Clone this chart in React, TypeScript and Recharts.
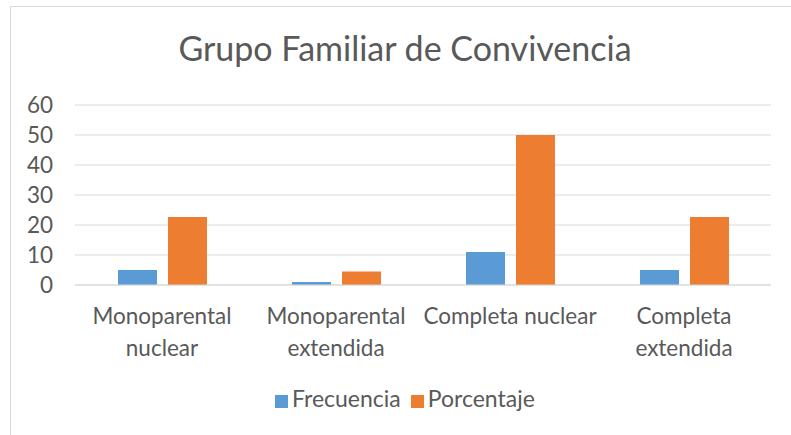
import { BarChart, Bar, XAxis, YAxis, CartesianGrid, Legend } from 'recharts';

const CATEGORIES = ['Monoparental\nnuclear', 'Monoparental\nextendida', 'Completa nuclear', 'Completa\nextendida'];
const FRECUENCIA = [5, 1, 11, 5];
const PORCENTAJE = [22.7, 4.5, 50, 22.7];
const Y_TICKS = [0, 10, 20, 30, 40, 50, 60];

const FONT = 'Lato, "Open Sans", sans-serif';
const TEXT = '#595959';
const GRID = '#d9d9d9';

const data = CATEGORIES.map((c, i) => ({ name: c, Frecuencia: FRECUENCIA[i], Porcentaje: PORCENTAJE[i] }));

function CategoryTick({ x, payload }: any) {
  const lines = String(payload.value).split('\n');
  return (
    <text x={x} y={324} textAnchor="middle" fill={TEXT} fontSize={22.5} fontFamily={FONT}>
      {lines.map((l, i) => (
        <tspan key={i} x={x} dy={i === 0 ? 0 : 32}>{l}</tspan>
      ))}
    </text>
  );
}

export default function App() {
  return (
    <div style={{ position: 'absolute', left: 0, top: 0, width: 791, height: 435, overflow: 'hidden', background: '#fff' }}>
      <div style={{ position: 'absolute', left: 10, top: 6, width: 800, height: 440, borderTop: `1px solid ${GRID}`, borderLeft: `1px solid ${GRID}` }} />
      <div style={{ position: 'absolute', left: 0, top: 27, width: 810, textAlign: 'center', fontFamily: FONT, fontSize: 34, color: TEXT, fontWeight: 400 }}>
        Grupo Familiar de Convivencia
      </div>
      <div style={{ position: 'absolute', left: 0, top: 0 }}>
        <BarChart width={791} height={435} data={data} margin={{ top: 105, right: 20, bottom: 0, left: 0 }} barSize={39} barGap={11}>
          <CartesianGrid vertical={false} stroke={GRID} strokeWidth={1} />
          <XAxis dataKey="name" axisLine={{ stroke: GRID }} tickLine={false} tickSize={0} tickMargin={0} interval={0} tick={<CategoryTick />} height={150} />
          <YAxis domain={[0, 60]} ticks={Y_TICKS} interval={0} width={75} axisLine={false} tickLine={false} tickSize={0} tickMargin={22}
            tick={{ fill: TEXT, fontSize: 22.5, fontFamily: FONT }} />
          <Legend iconType="square" iconSize={13} align="left"
            wrapperStyle={{ left: 275, top: 384, width: 340, height: 0, overflow: 'visible', whiteSpace: 'nowrap', fontFamily: FONT, fontSize: 23 }}
            formatter={(v) => <span style={{ color: TEXT, whiteSpace: 'nowrap' }}>{v}</span>} />
          <Bar dataKey="Frecuencia" fill="#5b9bd5" isAnimationActive={false} />
          <Bar dataKey="Porcentaje" fill="#ed7d31" isAnimationActive={false} />
        </BarChart>
      </div>
    </div>
  );
}
